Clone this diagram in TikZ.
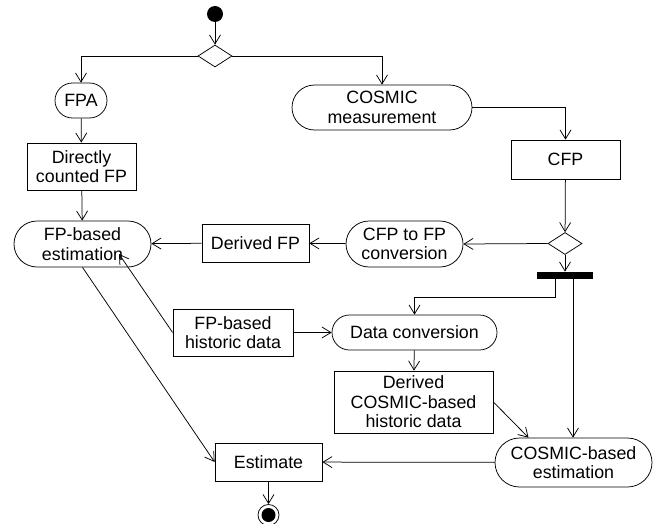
\documentclass[tikz,border=0pt]{standalone}
\usepackage{fontspec}
\setmainfont{Liberation Sans}
\usetikzlibrary{arrows.meta,shapes.geometric,shapes.misc}
\begin{document}
\begin{tikzpicture}[x=1pt,y=-1pt,line width=0.75pt,
	font=\fontsize{17.8}{19.5}\selectfont,
	>={Straight Barb[length=9pt,width=11pt]},
	act/.style={rounded rectangle,draw,align=center,inner sep=0pt},
	obj/.style={rectangle,draw,align=center,inner sep=0pt},
	dec/.style={diamond,draw,minimum width=34pt,minimum height=22pt,inner sep=0pt}]
	\useasboundingbox (0,0) rectangle (655,524);

	\draw[] (215,14) node[circle,fill,minimum size=16pt,inner sep=0pt] (st) {};
	\draw[] (215,56) node[dec] (da) {};
	\draw[] (81,100.5) node[act,minimum width=52pt,minimum height=35pt] (fpa) {FPA};
	\draw[] (382,107.5) node[act,minimum width=180pt,minimum height=45pt] (cm) {COSMIC\\measurement};
	\draw[] (81.5,166.5) node[obj,minimum width=109pt,minimum height=47pt] (dc) {Directly\\counted FP};
	\draw[] (565.5,159.5) node[obj,minimum width=109pt,minimum height=39pt] (cfp) {CFP};

	\draw[] (82.5,244) node[act,minimum width=137pt,minimum height=46pt] (fpe) {FP-based\\estimation};
	\draw[] (255.5,243) node[obj,minimum width=107pt,minimum height=38pt] (dfp) {Derived FP};
	\draw[] (404.5,244) node[act,minimum width=117pt,minimum height=46pt] (cv) {CFP to FP\\conversion};
	\draw[] (565,243.5) node[dec] (db) {};
	\draw[] (565,275.5) node[rectangle,fill,minimum width=56pt,minimum height=7pt,inner sep=0pt] (fk) {};

	\draw[] (233,332.5) node[obj,minimum width=120pt,minimum height=47pt] (hd) {FP-based\\historic data};
	\draw[] (414.5,332.5) node[act,minimum width=165pt,minimum height=35pt] (dv) {Data conversion};
	\draw[] (413.5,402) node[obj,minimum width=159pt,minimum height=62pt] (dh) {Derived\\COSMIC-based\\historic data};
	\draw[] (573.5,462.5) node[act,minimum width=157pt,minimum height=49pt] (ce) {COSMIC-based\\estimation};
	\draw[] (268.5,462) node[obj,minimum width=107pt,minimum height=38pt] (es) {Estimate};
	\draw[] (268.5,515) node[circle,draw,minimum size=21pt,inner sep=0pt] (fin) {};
	\draw[] (fin.center) node[circle,fill,minimum size=14pt,inner sep=0pt] (fdot) {};

	\coordinate (fpin) at (119,254);

	\draw[->] (st) -- (da);
	\draw[->] (da.west) -| (fpa.north);
	\draw[->] (da.east) -| (cm.north);
	\draw[->] (fpa) -- (dc);
	\draw[->] (cm.east) -| (cfp.north);
	\draw[->] (dc) -- (fpe);
	\draw[->] (cfp) -- (db);

	\draw[->] (db.west) -- (cv.east);
	\draw[->] (cv) -- (dfp);
	\draw[->] (dfp) -- (fpe);
	\draw[->] (db) -- (fk);
	\draw[->] ([xshift=-10pt]fk.south) -- ++(0,18) -| (dv.north);
	\draw[->] ([xshift=8pt]fk.south) -- ([xshift=8pt]fk.south |- ce.north);

	\draw[->] (hd) -- (dv);
	\draw[->] (hd.west) -- (fpin);
	\draw[->] (fpe.south) -- (es.west);
	\draw[->] (dv) -- (dh);
	\draw[->] (dh.east) -- ([xshift=-45pt]ce.north);
	\draw[->] (ce) -- (es);
	\draw[->] (es) -- (fin);

\end{tikzpicture}
\end{document}
